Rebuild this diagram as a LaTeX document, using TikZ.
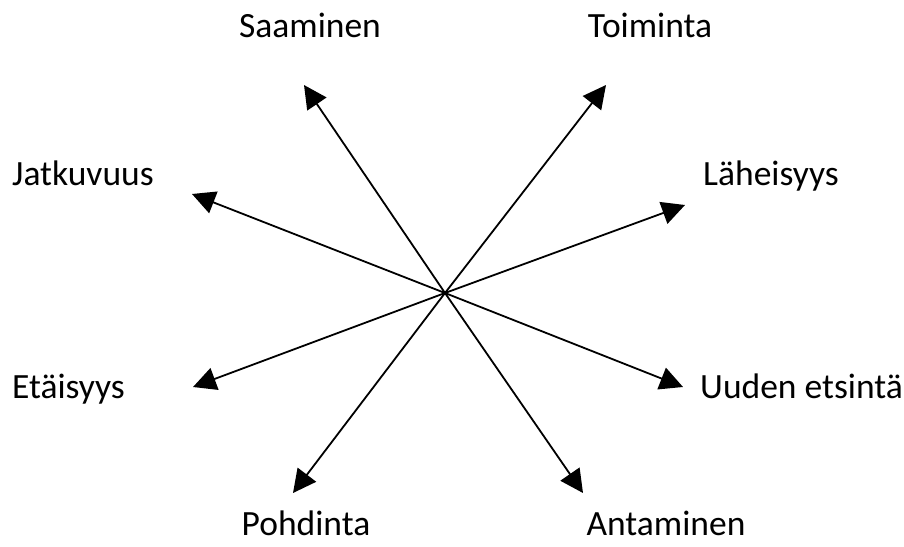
\documentclass[tikz,border=0pt]{standalone}
\usepackage{fontspec}
\setmainfont{Carlito}
\usetikzlibrary{arrows.meta}
\begin{document}
\begin{tikzpicture}[x=1pt,y=-1pt,
  lbl/.style={font=\fontsize{35.5}{40}\selectfont,inner sep=0pt},
  ray/.style={line width=1.8pt,-{Triangle[length=23pt,width=23pt]}}]
\useasboundingbox (0,0) rectangle (904,546);
\coordinate (c) at (445,293);
\coordinate (t1) at (304,85);
\coordinate (t2) at (606,85);
\coordinate (t3) at (192,194);
\coordinate (t4) at (685,205);
\coordinate (t5) at (193,387);
\coordinate (t6) at (683,387);
\coordinate (t7) at (293,493);
\coordinate (t8) at (583,493);
\foreach \t in {t1,t2,t3,t4,t5,t6,t7,t8} \draw[ray] (c) -- (\t);
\node[lbl,anchor=base] (saa) at (310,37) {Saaminen};
\node[lbl,anchor=base] (toi) at (650,37) {Toiminta};
\node[lbl,anchor=base west] (jat) at (12,185) {Jatkuvuus};
\node[lbl,anchor=base west] (lah) at (703,185) {Läheisyys};
\node[lbl,anchor=base west] (eta) at (12,398) {Etäisyys};
\node[lbl,anchor=base west] (uud) at (700,398) {Uuden etsintä};
\node[lbl,anchor=base] (poh) at (306,535) {Pohdinta};
\node[lbl,anchor=base] (ant) at (666,535) {Antaminen};
\end{tikzpicture}
\end{document}
